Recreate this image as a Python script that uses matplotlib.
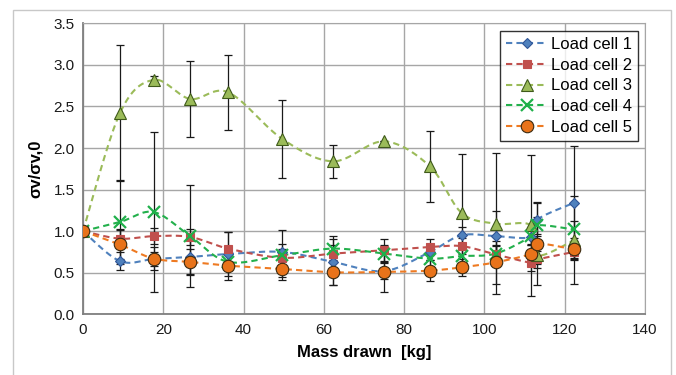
import numpy as np
import matplotlib
matplotlib.use("Agg")
import matplotlib.pyplot as plt
from matplotlib.patches import Rectangle
from matplotlib.lines import Line2D

plt.rcParams['font.family'] = ['Liberation Sans', 'DejaVu Sans']

# ---- data ----
mass = [0, 9.2, 17.6, 26.7, 36.2, 49.6, 62.3, 75.0, 86.4, 94.3, 102.8, 111.6, 113.2, 122.3]
lc1 = [1.0, 0.64, 0.665, 0.69, 0.725, 0.75, 0.63, 0.52, 0.75, 0.95, 0.94, 0.93, 1.14, 1.34]
lc2 = [1.0, 0.91, 0.94, 0.93, 0.79, 0.68, 0.73, 0.77, 0.81, 0.82, 0.72, 0.62, 0.66, 0.75]
lc3 = [1.0, 2.42, 2.82, 2.59, 2.67, 2.11, 1.84, 2.08, 1.78, 1.22, 1.09, 1.07, 0.71, 0.89]
lc4 = [1.0, 1.11, 1.23, 0.94, 0.63, 0.71, 0.79, 0.73, 0.67, 0.70, 0.73, 0.94, 1.07, 1.02]
lc5 = [1.0, 0.84, 0.67, 0.63, 0.585, 0.545, 0.505, 0.51, 0.525, 0.565, 0.625, 0.73, 0.85, 0.78]

err1 = [0, 0.11, 0.08, 0.20, 0.26, 0.10, 0.28, 0.10, 0.10, 0.10, 0.30, 0.10, 0.20, 0.68]
err2 = [0, 0.10, 0.10, 0.10, 0.20, 0.10, 0.10, 0.13, 0.10, 0.10, 0.10, 0.10, 0.10, 0.10]
err3 = [0, 0.82, 0.05, 0.46, 0.45, 0.47, 0.20, 0.00, 0.43, 0.71, 0.85, 0.85, 0.10, 0.53]
err4 = [0, 0.50, 0.96, 0.61, 0.10, 0.30, 0.15, 0.10, 0.10, 0.10, 0.10, 0.10, 0.10, 0.10]
err5 = [0, 0.18, 0.14, 0.16, 0.17, 0.10, 0.15, 0.24, 0.13, 0.10, 0.26, 0.10, 0.50, 0.10]

labels = ["Load cell 1", "Load cell 2", "Load cell 3", "Load cell 4", "Load cell 5"]
series = [lc1, lc2, lc3, lc4, lc5]
errors = [err1, err2, err3, err4, err5]

colors = ["#4F81BD", "#C0504D", "#9BBB59", "#1FB04A", "#E8731A"]
line_colors = ["#4F81BD", "#C0504D", "#9BBB59", "#23B04C", "#EE7A22"]
markers = ["D", "s", "^", "x", "o"]
msizes = [5.5, 6, 8, 8, 9]
medges = ["#2F5597", "#C0504D", "#3F5A1A", "#1FB04A", "#3A2A10"]

X_TO_PX = 4.015
Y_TO_PX = 83.1


def smooth(x, y, n=30):
    """Excel-like smoothed curve (Catmull-Rom Bezier) computed in pixel-scaled space."""
    P = np.column_stack([np.asarray(x) * X_TO_PX, np.asarray(y) * Y_TO_PX])
    out = []
    m = len(P)
    for i in range(m - 1):
        p0 = P[i - 1] if i > 0 else P[i]
        p1 = P[i]
        p2 = P[i + 1]
        p3 = P[i + 2] if i + 2 < m else P[i + 1]
        c1 = p1 + (p2 - p0) / 6.0
        c2 = p2 - (p3 - p1) / 6.0
        t = np.linspace(0, 1, n)[:, None]
        seg = ((1 - t) ** 3) * p1 + 3 * ((1 - t) ** 2) * t * c1 + 3 * (1 - t) * t ** 2 * c2 + t ** 3 * p2
        out.append(seg if i == 0 else seg[1:])
    out = np.vstack(out)
    return out[:, 0] / X_TO_PX, out[:, 1] / Y_TO_PX


fig = plt.figure(figsize=(6.76, 3.75), dpi=100)
fig.patches.append(Rectangle((13 / 676, -0.02), (671 - 13) / 676, 1 - 10 / 375 + 0.02,
                             transform=fig.transFigure, fill=False,
                             edgecolor="#C8C8C8", linewidth=1.0))
ax = fig.add_axes([83 / 676, 1 - 314.3 / 375, (645 - 83) / 676, (314.3 - 23.3) / 375])

ax.set_xlim(0, 140)
ax.set_ylim(0, 3.5)
ax.set_xticks(np.arange(0, 141, 20))
ax.set_yticks(np.arange(0, 3.51, 0.5))
ax.set_yticklabels([f"{v:.1f}" for v in np.arange(0, 3.51, 0.5)])
ax.grid(True, color="#A6A6A6", linewidth=1.0)
ax.set_axisbelow(True)
ax.tick_params(length=0, labelsize=11, pad=6, colors="#1A1A1A")
for s in ["top", "right"]:
    ax.spines[s].set_color("#A6A6A6")
for s in ["left", "bottom"]:
    ax.spines[s].set_color("#7F7F7F")
    ax.spines[s].set_linewidth(1.3)

# error bars
for y, e in zip(series, errors):
    ax.errorbar(mass, y, yerr=e, fmt="none", ecolor="#1A1A1A", elinewidth=0.9,
                capsize=3, capthick=0.9, zorder=3)

handles = []
for i, (y, lab) in enumerate(zip(series, labels)):
    xs, ys = smooth(mass, y)
    ax.plot(xs, ys, linestyle=(0, (3, 2)), color=line_colors[i], linewidth=1.5, zorder=4)
    if markers[i] == "x":
        ax.plot(mass, y, linestyle="none", marker="x", markersize=msizes[i],
                markeredgewidth=1.6, color=colors[i], zorder=5 + i)
        h = Line2D([], [], linestyle=(0, (3, 2)), color=line_colors[i], linewidth=1.5,
                   marker="x", markersize=msizes[i], markeredgewidth=1.6, markeredgecolor=colors[i])
    else:
        ax.plot(mass, y, linestyle="none", marker=markers[i], markersize=msizes[i],
                markerfacecolor=colors[i], markeredgecolor=medges[i], markeredgewidth=0.8,
                zorder=5 + i)
        h = Line2D([], [], linestyle=(0, (3, 2)), color=line_colors[i], linewidth=1.5,
                   marker=markers[i], markersize=msizes[i], markerfacecolor=colors[i],
                   markeredgecolor=medges[i], markeredgewidth=0.8)
    handles.append(h)

leg = ax.legend(handles, labels, loc="upper right", bbox_to_anchor=(0.993, 0.985),
                fontsize=12, frameon=True, fancybox=False, edgecolor="#000000",
                handlelength=2.5, handletextpad=0.2, labelspacing=0.35,
                borderpad=0.35, borderaxespad=0.2)
leg.get_frame().set_linewidth(1.0)
leg.set_zorder(20)

ax.set_xlabel("Mass drawn  [kg]", fontsize=12, fontweight="bold", labelpad=6)
ax.set_ylabel("σv/σv,0", fontsize=12, fontweight="bold", labelpad=8)

fig.savefig("out.png", dpi=100)
